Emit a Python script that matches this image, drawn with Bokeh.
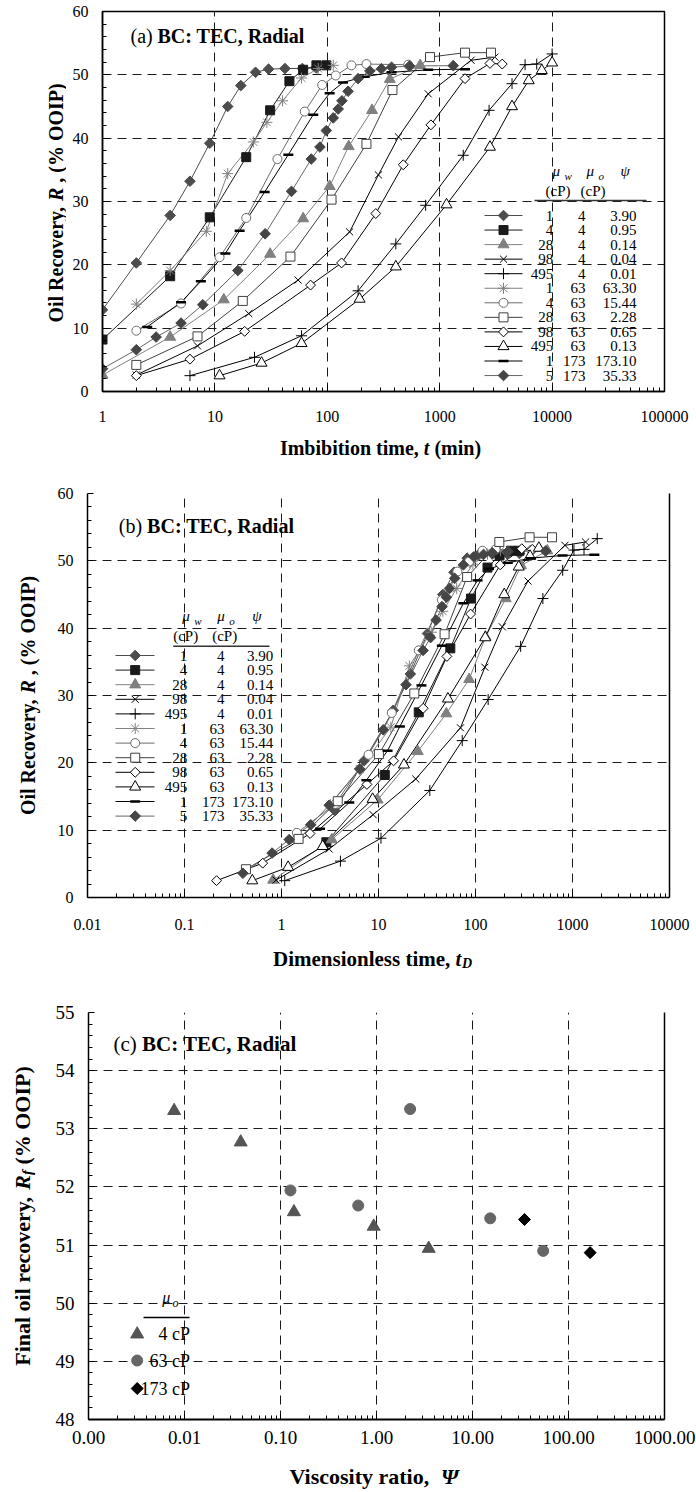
from math import pi
import numpy as np
from bokeh.plotting import figure
from bokeh.layouts import row
from bokeh.models import FixedTicker, Label, LinearAxis, ColumnDataSource
from bokeh.core.properties import value
from bokeh.embed import file_html
from bokeh.resources import INLINE

FONT = "Liberation Serif"

# ---------------- data ----------------
MU_W = [1, 4, 28, 98, 495, 1, 4, 28, 98, 495, 1, 5]
MU_O = [4, 4, 4, 4, 4, 63, 63, 63, 63, 63, 173, 173]
PSI_TXT = ["3.90", "0.95", "0.14", "0.04", "0.01", "63.30", "15.44", "2.28",
           "0.65", "0.13", "173.10", "35.33"]

# imbibition time t (min), recovery R (% OOIP), dimensionless time tD
T1 = [1, 2, 4, 6, 9, 13, 17, 23, 30, 42, 60, 80]
R1 = [12.9, 20.3, 27.8, 33.2, 39.2, 45.0, 48.3, 50.4, 50.9, 51.0, 51.0, 51.1]
TD1 = [3.55, 7.1, 14.2, 21.3, 32, 46, 60, 82, 107, 149, 213, 284]

T2 = [1, 4, 9, 19, 31, 46, 61, 80, 98]
R2 = [8.2, 18.2, 27.5, 37.0, 44.4, 49.0, 50.8, 51.5, 51.5]
TD2 = [2.9, 11.6, 26, 55, 90, 133, 177, 232, 284]

T3 = [1, 4, 12, 31, 61, 105, 155, 250, 360, 670]
R3 = [2.6, 8.6, 14.5, 21.7, 27.3, 32.4, 38.7, 44.4, 49.3, 51.5]
TD3 = [0.82, 3.3, 9.8, 25.4, 50, 86, 127, 205, 295, 550]

T4 = [2, 7, 20, 55, 158, 285, 430, 790, 1900, 3100]
R4 = [2.6, 7.2, 12.3, 17.6, 25.2, 34.2, 40.2, 47.0, 52.3, 52.8]
TD4 = [0.88, 3.1, 8.8, 24.2, 70, 125, 189, 348, 836, 1364]

T5 = [6, 22.5, 59, 188, 407, 750, 1620, 2750, 4400, 5750, 7300, 10000]
R5 = [2.5, 5.4, 8.8, 15.9, 23.3, 29.4, 37.3, 44.4, 48.6, 51.6, 51.7, 53.3]
TD5 = [1.08, 4.05, 10.6, 33.8, 73, 135, 292, 495, 792, 1035, 1314, 1800]

T6 = [2, 4, 8.4, 13, 22, 29, 40, 59, 83, 113]
R6 = [13.8, 19.1, 25.3, 34.4, 39.4, 42.5, 45.9, 49.5, 51.0, 51.5]
TD6 = [3.2, 6.4, 13.4, 20.8, 35, 46, 64, 94, 133, 181]

T7 = [2, 5, 11, 19, 36, 63, 90, 119, 164, 223, 525]
R7 = [9.6, 13.9, 21.2, 27.4, 36.7, 44.2, 48.4, 49.9, 51.5, 51.7, 51.6]
TD7 = [1.44, 3.6, 7.9, 13.7, 26, 45, 65, 86, 118, 161, 378]

T8 = [2, 7, 17.7, 47, 109, 223, 380, 820, 1680, 2860]
R8 = [4.2, 8.7, 14.3, 21.3, 30.3, 39.1, 47.6, 52.8, 53.5, 53.5]
TD8 = [0.43, 1.5, 3.8, 10.1, 23.4, 48, 82, 176, 361, 615]

T9 = [2, 6, 18.4, 71, 134, 270, 474, 835, 1680, 2800, 3600]
R9 = [2.5, 5.1, 9.5, 16.8, 20.3, 28.1, 35.8, 42.1, 49.4, 51.8, 51.7]
TD9 = [0.214, 0.64, 1.97, 7.6, 14.3, 28.9, 50.7, 89, 180, 300, 385]

T10 = [11, 26, 59, 194, 407, 1150, 2800, 4400, 6200, 8100, 10000]
R10 = [2.5, 4.5, 7.6, 14.6, 19.7, 29.5, 38.6, 45.0, 49.1, 50.7, 51.9]
TD10 = [0.5, 1.17, 2.66, 8.7, 18.3, 52, 126, 198, 279, 365, 450]

T11 = [2.5, 5, 7.5, 12.4, 16.6, 27.7, 45, 75, 105, 138, 215, 373, 790, 1680]
R11 = [10.2, 14.1, 17.4, 21.8, 25.4, 31.5, 37.4, 43.7, 47.1, 48.8, 49.7, 50.4, 50.8, 50.9]
TD11 = [2.5, 5, 7.5, 12.4, 16.6, 27.7, 45, 75, 105, 138, 215, 373, 790, 1680]

T12 = [1, 2, 3, 5, 7.8, 16, 28, 48, 72, 86, 98, 113, 125, 135, 153, 188, 239, 303, 373, 540, 1320]
R12 = [3.6, 6.6, 8.6, 10.8, 13.7, 19.1, 24.9, 31.6, 36.7, 38.6, 41.2, 43.2, 44.6, 45.9,
       47.4, 49.4, 50.6, 50.95, 51.2, 51.4, 51.45]
TD12 = [0.4, 0.8, 1.2, 2.0, 3.1, 6.4, 11.2, 19.2, 28.8, 34.4, 39.2, 45.2, 50, 54, 61, 75,
        96, 121, 149, 216, 528]

# panel (c): viscosity ratio vs final recovery
OIL_LEVELS = [4, 63, 173]
PSI_4 = [0.0078, 0.0385, 0.138, 0.935, 3.5]
RF_4 = [53.31, 52.77, 51.57, 51.32, 50.94]
PSI_63 = [0.127, 0.645, 2.24, 15.3, 54.5]
RF_63 = [51.94, 51.68, 53.34, 51.46, 50.90]
PSI_173 = [34.8, 168]
RF_173 = [51.44, 50.87]

# ticks
XT_A = [1, 10, 100, 1000, 10000, 100000]
XL_A = ["1", "10", "100", "1000", "10000", "100000"]
XT_B = [0.01, 0.1, 1, 10, 100, 1000, 10000]
XL_B = ["0.01", "0.1", "1", "10", "100", "1000", "10000"]
XT_C = [0.001, 0.01, 0.1, 1, 10, 100, 1000]
XL_C = ["0.00", "0.01", "0.10", "1.00", "10.00", "100.00", "1000.00"]
YT_AB = [0, 10, 20, 30, 40, 50, 60]
YT_C = [48, 49, 50, 51, 52, 53, 54, 55]

SERIES_T = [T1, T2, T3, T4, T5, T6, T7, T8, T9, T10, T11, T12]
SERIES_R = [R1, R2, R3, R4, R5, R6, R7, R8, R9, R10, R11, R12]
SERIES_TD = [TD1, TD2, TD3, TD4, TD5, TD6, TD7, TD8, TD9, TD10, TD11, TD12]

# ---------------- styles ----------------
STYLES = [
    dict(marker="square", angle=pi / 4, size=7.5, fill="#4d4d4d", edge="#4d4d4d", curve="#4d4d4d"),
    dict(marker="square", size=9, fill="#1a1a1a", edge="#1a1a1a", curve="#1a1a1a"),
    dict(marker="triangle", size=11, fill="#808080", edge="#808080", curve="#808080"),
    dict(marker="x", size=10, fill=None, edge="black", curve="black"),
    dict(marker="cross", size=11, fill=None, edge="black", curve="black"),
    dict(marker="asterisk", size=11, fill=None, edge="#808080", curve="#808080"),
    dict(marker="circle", size=9, fill="white", edge="#6b6b6b", curve="#6b6b6b"),
    dict(marker="square", size=9, fill="white", edge="#404040", curve="#404040"),
    dict(marker="square", angle=pi / 4, size=7, fill="white", edge="black", curve="black"),
    dict(marker="triangle", size=11, fill="white", edge="black", curve="black"),
    dict(marker="dash", size=10, fill=None, edge="black", curve="black", lw=2.5),
    dict(marker="square", angle=pi / 4, size=7.5, fill="#454545", edge="#454545", curve="#666666"),
]


def mk(st):
    d = dict(marker=st["marker"], size=st["size"], line_color=st["edge"],
             fill_color=st["fill"], line_width=st.get("lw", 1))
    if "angle" in st:
        d["angle"] = st["angle"]
    return d


class Frame:
    """maps page pixels to data coordinates of a figure frame"""
    def __init__(self, L, R, T, B, x0, x1, y0, y1, logx=True):
        self.L, self.R, self.T, self.B = L, R, T, B
        self.logx = logx
        self.x0, self.x1 = (np.log10(x0), np.log10(x1)) if logx else (x0, x1)
        self.y0, self.y1 = y0, y1

    def x(self, px):
        v = self.x0 + (px - self.L) / (self.R - self.L) * (self.x1 - self.x0)
        return float(10 ** v) if self.logx else float(v)

    def y(self, py):
        return float(self.y0 + (self.B - py) / (self.B - self.T) * (self.y1 - self.y0))


def label(p, fr, px, py, text, size, style="normal", align="left", angle=0.0):
    p.add_layout(Label(x=fr.x(px), y=fr.y(py), text=text, text_font=FONT,
                       text_font_size=f"{size}px", text_font_style=style,
                       text_align=align, text_baseline="middle", angle=angle,
                       text_color="black"))


def make_fig(w, h, xr, yr, bl, br, bt, bb):
    p = figure(width=w, height=h, x_axis_type="log", x_range=xr, y_range=yr,
               output_backend="svg", toolbar_location=None, title=None,
               min_border_left=bl, min_border_right=br, min_border_top=bt,
               min_border_bottom=bb)
    p.background_fill_color = "white"
    p.border_fill_color = "white"
    p.grid.grid_line_color = "#1a1a1a"
    p.grid.grid_line_dash = "9 6"
    p.grid.grid_line_width = 1
    return p


def helper(w, h, bt=0, bb=0):
    fh = h - bt - bb
    p = figure(width=w, height=h, x_range=(0, w), y_range=(0, fh),
               output_backend="svg", toolbar_location=None, title=None,
               x_axis_location=None, y_axis_location=None,
               min_border_left=0, min_border_right=0, min_border_top=bt, min_border_bottom=bb)
    p.outline_line_color = None
    p.background_fill_color = "white"
    p.border_fill_color = "white"
    p.xgrid.grid_line_color = None
    p.ygrid.grid_line_color = None
    p.xgrid.visible = False
    p.ygrid.visible = False
    return p


def style_axes(p, xt, xl, xminor, yt, yminor, fs, xstand, ystand):
    p.xaxis.ticker = FixedTicker(ticks=xt, minor_ticks=xminor)
    p.xaxis.major_label_overrides = {t: s for t, s in zip(xt, xl)}
    p.yaxis.ticker = FixedTicker(ticks=yt, minor_ticks=yminor)
    for ax in p.axis:
        ax.axis_line_color = "black"
        ax.axis_line_width = 1.5
        ax.major_tick_in = 6
        ax.major_tick_out = 0
        ax.minor_tick_in = 4
        ax.minor_tick_out = 0
        ax.major_tick_line_color = "black"
        ax.minor_tick_line_color = "black"
        ax.major_label_text_font = FONT
        ax.major_label_text_font_size = f"{fs}px"
        ax.major_label_text_color = "black"
    p.xaxis.major_label_standoff = xstand
    p.yaxis.major_label_standoff = ystand


def right_border(p):
    ra = LinearAxis(ticker=FixedTicker(ticks=[]), axis_line_color="black", axis_line_width=1.5,
                    major_tick_line_color=None, minor_tick_line_color=None)
    p.add_layout(ra, "right")


def log_minor(e0, e1):
    return [m * 10.0 ** e for e in range(e0, e1) for m in range(2, 10)]


def draw_series(p, xs_list, ys_list):
    for xs, ys, st in zip(xs_list, ys_list, STYLES):
        p.line(xs, ys, line_color=st["curve"], line_width=1)
    for xs, ys, st in zip(xs_list, ys_list, STYLES):
        p.scatter(xs, ys, **mk(st))


def draw_table_legend(p, fr, x_l0, x_l1, x_m, y0, dy, cols, hdr):
    ys = [y0 + i * dy for i in range(len(MU_W))]
    for py, st in zip(ys, STYLES):
        p.line([fr.x(x_l0), fr.x(x_l1)], [fr.y(py)] * 2, line_color=st["curve"], line_width=1)
        p.scatter([fr.x(x_m)], [fr.y(py)], **mk(st))
    n = len(MU_W)
    src = ColumnDataSource(dict(
        x1=[fr.x(cols[0])] * n, x2=[fr.x(cols[1])] * n, x3=[fr.x(cols[2])] * n,
        y=[fr.y(v) for v in ys],
        mw=[str(v) for v in MU_W], mo=[str(v) for v in MU_O], ps=PSI_TXT))
    for xc, tc in (("x1", "mw"), ("x2", "mo"), ("x3", "ps")):
        p.text(x=xc, y="y", text=tc, source=src, text_align="right", text_baseline="middle",
               text_font=value(FONT), text_font_size=value("15px"), text_color="black")
    (mwx, mox, psx, hy, cp1, cp2, cpy, rl0, rl1, ry) = hdr
    label(p, fr, mwx, hy, "\u03bc", 15, "italic")
    label(p, fr, mwx + 12, hy + 5, "w", 11, "italic")
    label(p, fr, mox, hy, "\u03bc", 15, "italic")
    label(p, fr, mox + 12, hy + 5, "o", 11, "italic")
    label(p, fr, psx, hy, "\u03c8", 15, "italic")
    label(p, fr, cp1, cpy, "(cP)", 15)
    label(p, fr, cp2, cpy, "(cP)", 15)
    p.line([fr.x(rl0), fr.x(rl1)], [fr.y(ry)] * 2, line_color="#333333", line_width=1.5)


def y_title(p, fr, px, start, parts):
    for off, dx, text, size, style in parts:
        label(p, fr, px + dx, start - off, text, size, style, angle=pi / 2)


W = 696
# ---------------- panel (a) : page y 0..432 ----------------
FA = Frame(102, 664, 11, 391, 1, 100000, 0, 60)
pa = make_fig(630, 432, (1, 100000), (0, 60), 36, 32, 11, 41)
style_axes(pa, XT_A, XL_A, log_minor(0, 5), YT_AB, list(range(2, 60, 2)), 16, 19, 14)
pa.outline_line_color = "black"
pa.outline_line_width = 1.5
draw_series(pa, SERIES_T, SERIES_R)
draw_table_legend(pa, FA, 484, 522, 503, 215, 14.55, (552.7, 585, 636),
                  (552, 586, 620, 170, 545, 580, 190, 534, 646, 200))
label(pa, FA, 130, 35, "(a)", 20)
label(pa, FA, 157, 35, "BC: TEC, Radial", 20, "bold")

ya = helper(66, 432, 11, 41)
FYA = Frame(0, 66, 11, 391, 0, 66, 0, 380, logx=False)
Y_PARTS_20 = [(0, 0, "Oil Recovery,", 20, "bold"), (121.6, 0, "R", 20, "bold italic"),
              (139.9, 0, ",", 20, "bold"), (149.9, 0, "(% OOIP)", 20, "bold")]
y_title(ya, FYA, 55, 322.1, Y_PARTS_20)

xa = helper(W, 38)
FXA = Frame(0, W, 432, 470, 0, W, 0, 38, logx=False)
label(xa, FXA, 279.4, 447, "Imbibition time,", 20, "bold")
label(xa, FXA, 423.3, 447, "t", 20, "bold italic")
label(xa, FXA, 433.9, 447, "(min)", 20, "bold")

# ---------------- panel (b) : page y 470..940 ----------------
FB = Frame(87, 669, 493, 897, 0.01, 10000, 0, 60)
pb = make_fig(650, 470, (0.01, 10000), (0, 60), 41, 27, 23, 43)
style_axes(pb, XT_B, XL_B, log_minor(-2, 4), YT_AB, list(range(2, 60, 2)), 16, 21, 14)
pb.outline_line_color = None
right_border(pb)
draw_series(pb, SERIES_TD, SERIES_R)
draw_table_legend(pb, FB, 115, 154, 134.7, 655, 14.6, (186.7, 224, 272.7),
                  (181.7, 216.7, 251.7, 615, 172.7, 211.7, 635, 172.7, 269, 645.7))
label(pb, FB, 118.3, 525, "(b)", 20)
label(pb, FB, 146.6, 525, "BC: TEC, Radial", 20, "bold")

yb = helper(46, 470, 23, 43)
FYB = Frame(0, 46, 493, 897, 0, 46, 0, 404, logx=False)
y_title(yb, FYB, 27, 814.6, Y_PARTS_20)

xb = helper(W, 45)
FXB = Frame(0, W, 940, 985, 0, W, 0, 45, logx=False)
label(xb, FXB, 272.5, 958, "Dimensionless time,", 21, "bold")
label(xb, FXB, 455.1, 958, "t", 21, "bold italic")
label(xb, FXB, 461.4, 963, "D", 14, "bold italic")

# ---------------- panel (c) : page y 985..1458 ----------------
FC = Frame(88, 664, 1012, 1419, 0.001, 1000, 48, 55)
pc = make_fig(654, 473, (0.001, 1000), (48, 55), 46, 32, 27, 39)
style_axes(pc, XT_C, XL_C, log_minor(-3, 3), YT_C,
           [round(48 + 0.2 * k, 1) for k in range(1, 35) if k % 5], 19, 11, 14)
pc.outline_line_color = None
pc.xaxis.axis_line_width = 2
right_border(pc)
C_STY = [dict(marker="triangle", size=13, color="#555555"),
         dict(marker="circle", size=11, color="#666666"),
         dict(marker="square", size=8.5, color="black", angle=pi / 4)]
for (xs, ys), st in zip(((PSI_4, RF_4), (PSI_63, RF_63), (PSI_173, RF_173)), C_STY):
    pc.scatter(xs, ys, marker=st["marker"], size=st["size"], fill_color=st["color"],
               line_color=st["color"], angle=st.get("angle", 0.0))
label(pc, FC, 161.7, 1297, "\u03bc", 16, "italic")
label(pc, FC, 172, 1302, "o", 12, "italic")
pc.line([FC.x(143), FC.x(189)], [FC.y(1317)] * 2, line_color="black", line_width=1.5)
for py, st, lev in zip((1333.7, 1360, 1388), C_STY, OIL_LEVELS):
    pc.scatter([FC.x(136.7)], [FC.y(py)], marker=st["marker"], size=st["size"],
               fill_color=st["color"], line_color=st["color"], angle=st.get("angle", 0.0))
    label(pc, FC, 189.5, py, f"{lev} cP", 18, align="right")
label(pc, FC, 113, 1043, "(c)", 21)
label(pc, FC, 141.5, 1043, "BC: TEC, Radial", 21, "bold")

yc = helper(42, 473, 27, 39)
FYC = Frame(0, 42, 1012, 1419, 0, 42, 0, 407, logx=False)
y_title(yc, FYC, 22, 1365.3, [(0, 0, "Final oil recovery,", 22, "bold"),
                              (176, 0, "R", 22, "bold italic"),
                              (190.7, 4, "f", 15, "bold italic"),
                              (201.2, 0, "(% OOIP)", 22, "bold")])

xc = helper(W, 32)
FXC = Frame(0, W, 1458, 1490, 0, W, 0, 32, logx=False)
label(xc, FXC, 289, 1476, "Viscosity ratio,", 22, "bold")
label(xc, FXC, 440.5, 1476, "\u03a8", 22, "bold italic")

roots = [row(ya, pa), xa, row(yb, pb), xb, row(yc, pc), xc]
open("out.html", "w").write(file_html(roots, INLINE))
